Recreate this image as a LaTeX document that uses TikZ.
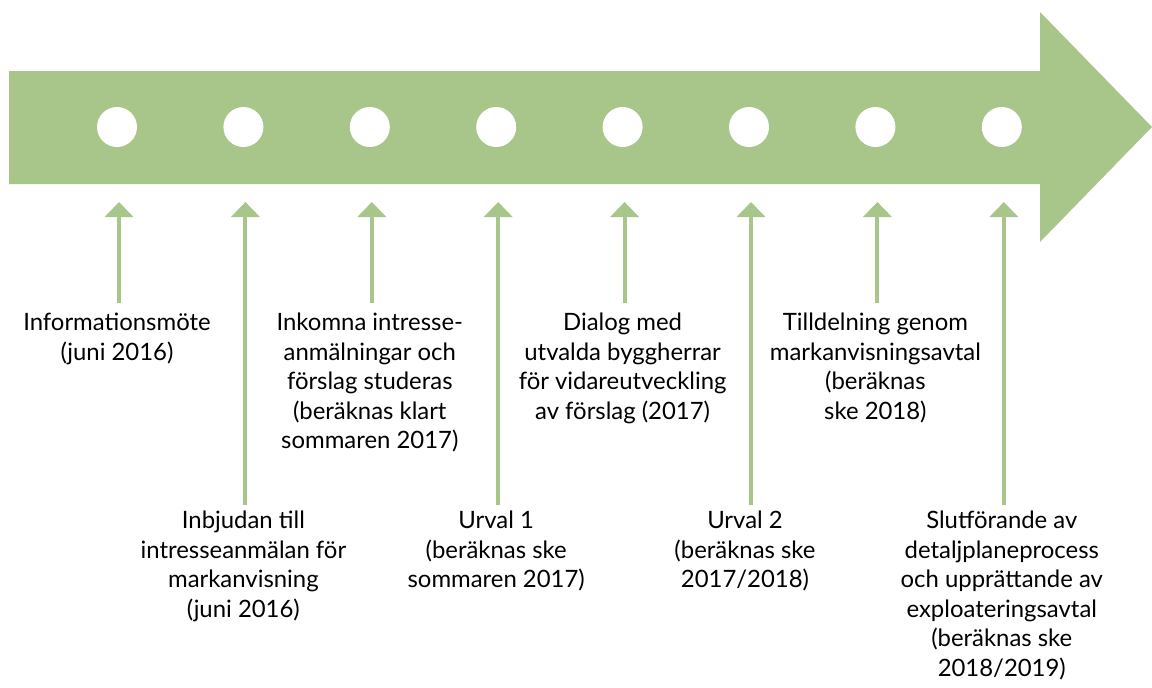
\documentclass[tikz,border=0pt]{standalone}
\usepackage{fontspec}
\setmainfont{Lato}
\usetikzlibrary{arrows.meta,positioning}
\definecolor{timegreen}{RGB}{168,197,138}

\begin{document}
\begin{tikzpicture}[
      node distance=3.16cm, on grid,
      dot/.style={circle, fill=white, minimum size=1cm, inner sep=0pt},
      event/.style={align=center, font=\fontsize{17}{21}\selectfont, inner xsep=2pt, inner ysep=4pt},
      upper/.style={event, inner ysep=7pt},
      uparrow/.style={-{Triangle[width=0.7cm,length=0.375cm]}, line width=0.1cm, draw=timegreen}]

      \useasboundingbox (0,0) rectangle (28.8,-17.2);

      % Timeline
      \fill[timegreen] (0.225,-1.775) -- (26.0,-1.775) -- (26.0,-0.3) -- (28.8,-3.175)
            -- (26.0,-6.05) -- (26.0,-4.6) -- (0.225,-4.6) -- cycle;

      % Nodes
      \node[dot] (c1) at (2.925,-3.175) {};
      \node[dot, right=of c1] (c2) {};
      \node[dot, right=of c2] (c3) {};
      \node[dot, right=of c3] (c4) {};
      \node[dot, right=of c4] (c5) {};
      \node[dot, right=of c5] (c6) {};
      \node[dot, right=of c6] (c7) {};
      \node[dot, right=of c7] (c8) {};
      \foreach \i in {1,...,8}
            \coordinate[below=1.875cm of c\i, xshift=0.05cm] (p\i);

      % Labels
      \node[upper, below=4.4cm of c1, anchor=north] (t1) {Informationsmöte\\(juni 2016)};
      \node[event, below=9.45cm of c2, anchor=north] (t2) {Inbjudan till\\intresseanmälan för\\markanvisning\\(juni 2016)};
      \node[upper, below=4.4cm of c3, anchor=north] (t3) {Inkomna intresse-\\anmälningar och\\förslag studeras\\(beräknas klart\\sommaren 2017)};
      \node[event, below=9.45cm of c4, anchor=north] (t4) {Urval 1\\(beräknas ske\\sommaren 2017)};
      \node[upper, below=4.4cm of c5, anchor=north] (t5) {Dialog med\\utvalda byggherrar\\för vidareutveckling\\av förslag (2017)};
      \node[event, below=9.45cm of c6, anchor=north, xshift=-0.1cm] (t6) {Urval 2\\(beräknas ske\\2017/2018)};
      \node[upper, below=4.4cm of c7, anchor=north] (t7) {Tilldelning genom\\markanvisningsavtal\\(beräknas\\ske 2018)};
      \node[event, below=9.45cm of c8, anchor=north] (t8) {Slutförande av\\detaljplaneprocess\\och upprättande av\\exploateringsavtal\\(beräknas ske\\2018/2019)};

      % Edges
      \foreach \i in {1,...,8}
            \draw[uparrow] (t\i.north -| p\i) -- (p\i);

\end{tikzpicture}
\end{document}
